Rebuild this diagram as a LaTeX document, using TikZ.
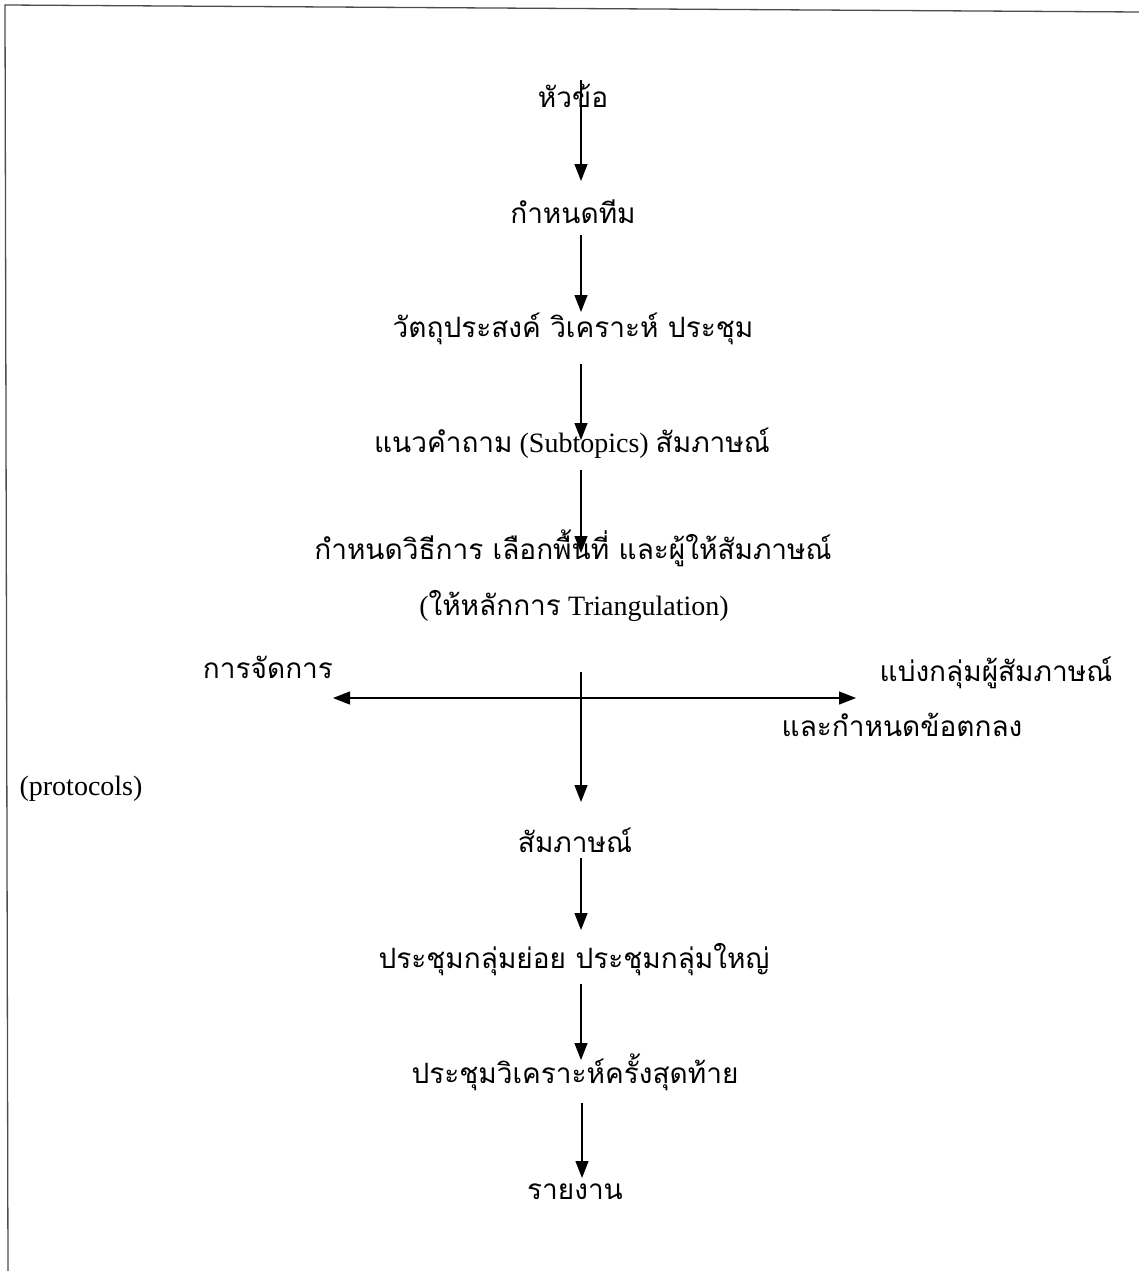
\documentclass[tikz,border=0pt]{standalone}
\usepackage{fontspec}
\setmainfont{Liberation Serif}
\newfontfamily\thaifont[Script=Thai]{Loma}
\usetikzlibrary{arrows.meta}
\begin{document}
\begin{tikzpicture}[x=1pt,y=-1pt,
  lbl/.style={inner sep=0pt, anchor=base, font=\fontsize{28}{34}\selectfont},
  arr/.style={line width=1.3pt, -{Triangle[width=13pt,length=17pt]}},
  frame/.style={line width=1.3pt, black!70}]
\useasboundingbox (0,0) rectangle (1139,1271);
% frame lines
\coordinate (f0) at (5,5);
\coordinate (f1) at (1139,12);
\coordinate (f2) at (8,1271);
\draw[frame] (f1) -- (f0) -- (f2);
% texts
\node[lbl] (t1) at (573,108) {\thaifont หัวข้อ};
\node[lbl] (t2) at (573,223) {\thaifont กำหนดทีม};
\node[lbl] (t3) at (573,337) {\thaifont วัตถุประสงค์ วิเคราะห์ ประชุม};
\node[lbl] (t4) at (572,452) {{\thaifont แนวคำถาม} (Subtopics) {\thaifont สัมภาษณ์}};
\node[lbl] (t5) at (573,559) {\thaifont กำหนดวิธีการ เลือกพื้นที่ และผู้ให้สัมภาษณ์};
\node[lbl] (t6) at (574,615) {({\thaifont ให้หลักการ} Triangulation)};
\node[lbl] (tl) at (268,678) {\thaifont การจัดการ};
\node[lbl] (tr1) at (996,681) {\thaifont แบ่งกลุ่มผู้สัมภาษณ์};
\node[lbl] (tr2) at (902,736) {\thaifont และกำหนดข้อตกลง};
\node[lbl] (tp) at (81,795) {(protocols)};
\node[lbl] (t7) at (575,852) {\thaifont สัมภาษณ์};
\node[lbl] (t8) at (574,968) {\thaifont ประชุมกลุ่มย่อย ประชุมกลุ่มใหญ่};
\node[lbl] (t9) at (575,1083) {\thaifont ประชุมวิเคราะห์ครั้งสุดท้าย};
\node[lbl] (t10) at (575,1199) {\thaifont รายงาน};
% connector ends
\coordinate (a1s) at (581,80);   \coordinate (a1e) at (581,181);
\coordinate (a2s) at (581,235);  \coordinate (a2e) at (581,312);
\coordinate (a3s) at (581,364);  \coordinate (a3e) at (581,440);
\coordinate (a4s) at (581,470);  \coordinate (a4e) at (581,553);
\coordinate (a5s) at (581,672);  \coordinate (a5e) at (581,802);
\coordinate (hc) at (581,698);
\coordinate (hl) at (333,698);   \coordinate (hr) at (856,698);
\coordinate (a6s) at (581,858);  \coordinate (a6e) at (581,930);
\coordinate (a7s) at (581,984);  \coordinate (a7e) at (581,1060);
\coordinate (a8s) at (582,1103); \coordinate (a8e) at (582,1178);
\draw[arr] (a1s) -- (a1e);
\draw[arr] (a2s) -- (a2e);
\draw[arr] (a3s) -- (a3e);
\draw[arr] (a4s) -- (a4e);
\draw[arr] (a5s) -- (a5e);
\draw[arr] (hc) -- (hl);
\draw[arr] (hc) -- (hr);
\draw[arr] (a6s) -- (a6e);
\draw[arr] (a7s) -- (a7e);
\draw[arr] (a8s) -- (a8e);
\end{tikzpicture}
\end{document}
